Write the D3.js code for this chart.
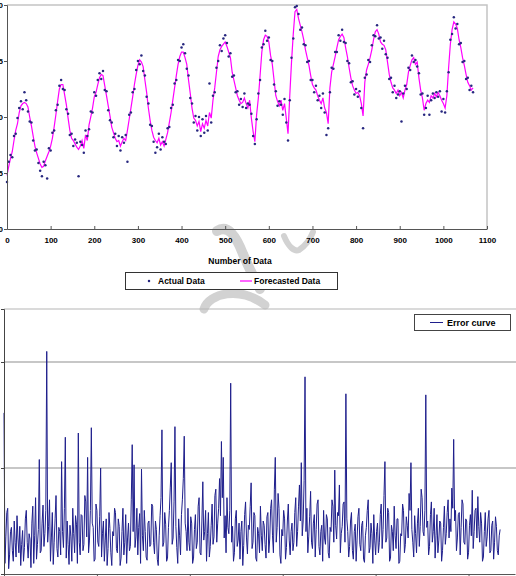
<!DOCTYPE html>
<html>
<head>
<meta charset="utf-8">
<script src="https://d3js.org/d3.v7.min.js"></script>
<style>
  body { margin: 0; background: #fff; }
  svg { display: block; font-family: Arial, "Liberation Sans", sans-serif; }
  .tick text { font-weight: bold; font-size: 8px; fill: #000; }
  .lbl { font-weight: bold; font-size: 8.5px; fill: #000; }
</style>
</head>
<body>
<script>
// top chart: one sample every 4 data points
var sampleStep = 4;
// error chart: one sample every 2 data points
var errStep = 2;

var forecast = [
  1.48,1.56,1.63,1.69,1.79,1.88,1.94,2.04,2.10,2.12,2.13,2.12,2.09,2.00,1.92,1.83,1.74,1.68,1.63,1.58,
  1.55,1.56,1.61,1.65,1.69,1.74,1.81,1.91,2.02,2.14,2.25,2.29,2.29,2.20,2.11,1.99,1.88,1.81,1.79,1.76,
  1.73,1.71,1.74,1.79,1.72,1.84,1.79,1.93,2.00,2.08,2.18,2.22,2.29,2.35,2.38,2.37,2.28,2.19,2.10,2.01,
  1.91,1.86,1.81,1.78,1.79,1.74,1.78,1.81,1.79,1.88,1.98,2.08,2.18,2.29,2.38,2.46,2.51,2.49,2.45,2.33,
  2.22,2.08,1.97,1.88,1.82,1.79,1.77,1.81,1.75,1.78,1.74,1.80,1.86,1.95,2.04,2.15,2.26,2.37,2.47,2.54,
  2.58,2.58,2.53,2.47,2.33,2.21,2.08,1.99,1.97,1.92,1.96,1.87,1.94,1.90,1.97,1.92,2.04,1.99,2.15,2.26,
  2.40,2.54,2.60,2.63,2.65,2.67,2.63,2.58,2.53,2.40,2.33,2.26,2.19,2.15,2.12,2.13,2.17,2.12,2.08,2.15,
  1.99,1.87,1.78,2.02,2.17,2.37,2.58,2.69,2.73,2.72,2.67,2.55,2.47,2.33,2.19,2.14,2.10,2.15,2.06,2.12,
  1.99,1.85,2.19,2.49,2.74,2.94,2.96,2.88,2.82,2.76,2.69,2.60,2.53,2.46,2.37,2.29,2.26,2.24,2.19,2.15,
  2.12,2.17,2.08,2.04,1.94,2.26,2.40,2.47,2.54,2.62,2.69,2.72,2.74,2.71,2.62,2.54,2.44,2.35,2.28,2.24,
  2.21,2.22,2.19,2.12,2.01,2.31,2.42,2.47,2.53,2.60,2.69,2.76,2.78,2.74,2.67,2.65,2.64,2.60,2.49,2.38,
  2.31,2.26,2.24,2.21,2.24,2.19,2.22,2.17,2.24,2.29,2.40,2.46,2.51,2.53,2.47,2.49,2.35,2.24,2.17,2.06,
  2.12,2.15,2.13,2.19,2.17,2.21,2.18,2.22,2.19,2.15,2.12,2.08,2.19,2.44,2.65,2.78,2.85,2.83,2.79,2.69,
  2.62,2.53,2.46,2.38,2.31,2.28,2.24,2.26
];

var actual = [
  1.42,1.60,1.66,1.64,1.83,1.85,1.99,2.08,2.14,2.07,2.22,2.15,2.05,1.96,1.95,1.79,1.70,1.71,1.59,1.52,
  1.47,1.60,1.57,1.45,1.72,1.70,1.86,1.88,2.06,2.11,2.28,2.33,2.25,2.24,2.07,2.03,1.84,1.85,1.74,1.80,
  1.77,1.47,1.78,1.75,1.68,1.88,1.83,1.89,2.05,2.04,2.22,2.19,2.33,2.39,2.34,2.41,2.24,2.23,2.06,1.97,
  1.95,1.82,1.85,1.74,1.83,1.70,1.82,1.77,1.84,1.60,2.02,2.04,2.22,2.25,2.42,2.50,2.47,2.55,2.41,2.37,
  2.18,2.12,1.93,1.92,1.78,1.68,1.73,1.85,1.71,1.82,1.78,1.76,1.90,1.91,2.08,2.11,2.30,2.33,2.51,2.50,
  2.62,2.65,2.57,2.43,2.37,2.17,2.12,1.95,2.01,1.88,2.00,1.83,1.98,1.86,2.01,1.88,2.30,1.95,2.19,2.22,
  2.44,2.50,2.64,2.59,2.70,2.73,2.66,2.54,2.57,2.36,2.37,2.22,2.23,2.11,2.16,2.09,2.21,2.08,2.12,2.11,
  2.03,1.83,1.76,1.98,2.21,2.33,2.62,2.65,2.77,2.68,2.71,2.51,2.50,2.29,2.23,2.10,2.14,2.11,2.02,2.16,
  1.95,1.79,2.15,2.53,2.70,2.98,2.99,2.92,2.78,2.80,2.65,2.64,2.49,2.50,2.33,2.33,2.22,2.28,2.15,2.19,
  2.08,2.21,2.04,1.84,1.90,2.22,2.44,2.43,2.58,2.58,2.73,2.68,2.78,2.67,2.66,2.50,2.48,2.31,2.32,2.20,
  2.25,2.18,2.23,2.08,1.90,2.35,2.38,2.51,2.49,2.64,2.73,2.72,2.82,2.70,2.71,2.61,2.68,2.56,2.53,2.34,
  2.35,2.22,2.28,2.17,2.20,2.23,1.96,2.21,2.28,2.25,2.44,2.42,2.55,2.49,2.51,2.45,2.39,2.20,2.21,2.02,
  2.08,2.19,2.02,2.15,2.21,2.17,2.22,2.18,2.23,2.05,2.16,2.04,2.23,2.40,2.69,2.74,2.89,2.79,2.83,2.65,
  2.66,2.49,2.50,2.34,2.35,2.24,2.28,2.22
];

var errorCurve = [
  1.52,0.10,0.35,0.58,0.62,0.05,0.18,0.40,0.44,0.22,0.12,0.50,0.30,0.16,0.55,0.34,0.20,0.45,0.08,0.28,
  0.41,0.12,0.25,0.52,0.60,0.30,0.15,0.38,0.33,0.06,0.48,0.64,0.10,0.36,0.72,0.14,0.28,0.42,1.08,0.20,
  0.22,0.48,0.65,0.26,0.38,0.60,2.10,0.30,0.45,0.70,0.12,0.34,0.58,0.09,0.30,0.52,0.74,0.24,0.16,0.44,
  0.40,0.18,1.06,0.40,0.25,0.62,1.29,0.15,0.50,0.28,0.09,0.46,0.35,0.12,0.62,0.38,0.20,0.55,0.47,0.10,
  1.33,0.30,0.18,0.56,0.55,0.22,0.28,0.74,0.68,0.35,1.10,0.20,0.32,0.60,1.38,0.48,0.44,0.12,0.14,0.66,
  0.60,0.30,0.26,0.54,1.00,0.16,0.38,0.50,0.12,0.32,0.52,0.08,0.24,0.58,0.43,0.20,0.08,0.40,0.36,0.62,
  0.58,0.24,0.20,0.52,0.45,0.08,0.15,0.40,0.62,0.18,0.30,0.56,0.10,0.34,0.48,0.22,0.26,0.70,1.22,0.40,
  1.03,0.25,0.35,0.62,0.18,0.44,0.57,0.10,0.99,0.36,0.22,0.60,0.40,0.16,0.13,0.48,0.50,0.26,0.28,0.66,
  0.64,0.30,0.19,0.50,0.42,0.14,0.08,0.36,0.55,0.72,1.36,0.26,0.30,0.58,0.47,0.12,0.15,0.44,0.60,0.82,
  1.05,0.28,0.34,0.68,1.39,0.45,0.25,0.10,0.52,0.36,0.18,0.56,0.70,0.90,1.30,0.48,0.40,0.22,0.62,0.30,
  0.22,0.54,0.48,0.10,0.15,0.42,0.56,0.24,0.30,0.64,0.72,0.20,0.18,0.50,0.87,0.32,0.40,0.60,0.12,0.38,
  0.58,0.16,0.26,0.46,0.66,0.28,0.35,0.74,0.80,0.30,0.48,0.62,0.90,0.55,1.25,0.72,1.10,0.34,0.55,0.20,
  0.72,0.44,0.38,0.60,1.80,0.30,0.45,0.12,0.20,0.52,0.60,0.26,0.32,0.48,0.14,0.40,0.50,0.08,0.27,0.56,
  0.68,0.34,0.19,0.46,0.42,0.64,0.86,0.24,0.30,0.58,0.55,0.15,0.12,0.44,0.38,0.20,0.64,0.36,0.22,0.50,
  0.46,0.28,0.15,0.54,0.58,0.20,0.33,0.62,0.70,0.36,0.20,0.80,1.10,0.30,0.44,0.76,0.62,0.18,0.10,0.42,
  0.36,0.60,0.52,0.14,0.25,0.50,0.66,0.32,0.18,0.40,0.48,0.22,0.30,0.58,0.72,0.26,0.40,0.64,0.84,0.50,
  1.05,0.36,0.50,0.88,1.86,0.40,0.62,0.20,0.35,0.54,0.78,0.30,0.24,0.48,0.56,0.16,0.42,0.66,0.70,0.26,
  0.18,0.40,0.46,0.12,0.60,0.34,0.28,0.56,0.52,0.20,0.15,0.44,0.40,0.70,0.64,0.30,0.98,0.46,0.33,0.58,
  0.55,0.84,0.20,0.38,0.45,0.66,0.68,0.30,1.70,0.52,0.40,0.16,0.26,0.50,0.58,0.22,0.14,0.40,0.47,0.12,
  0.32,0.54,0.62,0.28,0.22,0.46,0.50,0.14,0.11,0.36,0.44,0.60,0.70,0.20,0.25,0.48,0.38,0.10,0.56,0.32,
  0.18,0.40,0.48,0.20,0.30,0.56,0.66,0.24,0.42,0.74,1.06,0.30,0.34,0.62,0.58,0.12,0.15,0.46,0.40,0.22,
  0.64,0.36,0.24,0.52,0.52,0.10,0.12,0.38,0.36,0.66,0.60,0.20,0.28,0.54,0.46,0.34,0.76,0.60,1.05,0.42,
  0.30,0.16,0.55,0.38,0.20,0.48,0.62,0.26,0.45,0.80,0.72,0.40,0.36,0.60,1.69,0.44,0.50,0.18,0.26,0.56,
  0.68,0.30,0.40,0.62,0.15,0.36,0.56,0.20,0.32,0.50,0.48,0.12,0.22,0.44,0.64,0.28,0.38,0.58,0.70,0.34,
  0.52,0.40,0.81,0.62,1.27,0.50,0.60,0.22,0.34,0.56,0.58,0.18,0.44,0.70,0.66,0.30,0.28,0.52,0.50,0.14,
  0.20,0.46,0.56,0.36,0.79,0.24,0.40,0.60,0.62,0.34,0.73,0.45,0.30,0.58,0.48,0.12,0.16,0.40,0.58,0.26,
  0.35,0.52,0.60,0.20,0.22,0.46,0.50,0.14,0.30,0.54,0.45,0.22,0.18,0.36,0.42
];

var xTicks = [0, 100, 200, 300, 400, 500, 600, 700, 800, 900, 1000, 1100];
var yTicksTop = [1, 1.5, 2, 2.5, 3];
var xTicksErr = [0, 200, 400, 600, 800, 1000];
var yTicksErr = [0, 1, 2];

var W = 516, H = 576;
var svg = d3.select("body").append("svg")
    .attr("width", W)
    .attr("height", H);
svg.append("rect").attr("width", W).attr("height", H).attr("fill", "#fff");

// faint watermark strokes (drawn first, under everything)
var wm = svg.append("g").attr("fill", "none").attr("stroke", "#d2d2d2")
    .attr("stroke-linecap", "round");
wm.append("path").attr("d", "M217,231 C228,224 236,236 243,254 C249,268 255,280 260,289")
    .attr("stroke-width", 10);
wm.append("path").attr("d", "M204,309 C209,293 240,286 265,305")
    .attr("stroke-width", 9);
wm.append("path").attr("d", "M284,236 C288,246 294,252 299,250 C305,246 310,240 313,232")
    .attr("stroke-width", 6);

// ---------- top chart ----------
var x = d3.scaleLinear().domain([0, 1100]).range([7, 487]);
var y = d3.scaleLinear().domain([1, 3]).range([229, 5]);

// frame (top/right)
svg.append("path")
    .attr("d", "M" + x(0) + "," + y(3) + "H" + x(1100) + "V" + y(1))
    .attr("fill", "none").attr("stroke", "#c4c4c4").attr("stroke-width", 1.5);

var gTop = svg.append("g");
gTop.append("path")
    .datum(forecast)
    .attr("fill", "none")
    .attr("stroke", "#ff00ff")
    .attr("stroke-width", 1.2)
    .attr("d", d3.line()
        .x(function (d, i) { return x(i * sampleStep); })
        .y(function (d) { return y(d); }));

gTop.selectAll(".dot")
    .data(actual)
    .enter().append("circle")
    .attr("class", "dot")
    .attr("cx", function (d, i) { return x(i * sampleStep); })
    .attr("cy", function (d) { return y(d); })
    .attr("r", 1.25)
    .attr("fill", "#27277f");

var xAxis = svg.append("g")
    .attr("transform", "translate(0," + y(1) + ")")
    .call(d3.axisBottom(x).tickValues(xTicks).tickFormat(d3.format("d"))
        .tickSizeInner(-3).tickSizeOuter(0).tickPadding(8));
xAxis.select(".domain").attr("stroke", "#555");
xAxis.selectAll(".tick line").attr("stroke", "#555");

var yAxis = svg.append("g")
    .attr("transform", "translate(" + x(0) + ",0)")
    .call(d3.axisLeft(y).tickValues(yTicksTop).tickSize(3).tickPadding(1));
yAxis.select(".domain").attr("stroke", "#555");
yAxis.selectAll(".tick line").attr("stroke", "#555");

svg.append("text").attr("class", "lbl")
    .attr("x", 240).attr("y", 264)
    .attr("text-anchor", "middle")
    .text("Number of Data");

// legend
var lg = svg.append("g");
lg.append("rect").attr("x", 125.5).attr("y", 272.5).attr("width", 212).attr("height", 17)
    .attr("fill", "#fff").attr("stroke", "#333").attr("stroke-width", 1);
lg.append("circle").attr("cx", 149).attr("cy", 281).attr("r", 1.25).attr("fill", "#27277f");
lg.append("text").attr("class", "lbl").attr("x", 158).attr("y", 284).text("Actual Data");
lg.append("line").attr("x1", 240).attr("x2", 252).attr("y1", 281).attr("y2", 281)
    .attr("stroke", "#ff00ff").attr("stroke-width", 1.2);
lg.append("text").attr("class", "lbl").attr("x", 254).attr("y", 284).text("Forecasted Data");

// ---------- error chart ----------
var xe = d3.scaleLinear().domain([0, 1100]).range([4, 515]);
var ye = d3.scaleLinear().domain([0, 2.5]).range([574, 309]);

svg.append("line").attr("x1", xe(0)).attr("x2", W).attr("y1", ye(2.5)).attr("y2", ye(2.5))
    .attr("stroke", "#b5b5b5").attr("stroke-width", 1.2);
svg.append("g").selectAll("line")
    .data(yTicksErr.filter(function (d) { return d > 0; }))
    .enter().append("line")
    .attr("x1", xe(0)).attr("x2", W)
    .attr("y1", function (d) { return ye(d); })
    .attr("y2", function (d) { return ye(d); })
    .attr("stroke", "#8f8f8f").attr("stroke-width", 1);

svg.append("path")
    .datum(errorCurve)
    .attr("fill", "none")
    .attr("stroke", "#1f1f8c")
    .attr("stroke-width", 1)
    .attr("d", d3.line()
        .x(function (d, i) { return xe(i * errStep); })
        .y(function (d) { return ye(d); }));

var xeAxis = svg.append("g")
    .attr("transform", "translate(0," + ye(0) + ")")
    .call(d3.axisBottom(xe).tickValues(xTicksErr).tickFormat(d3.format("d"))
        .tickSize(3).tickSizeOuter(0));
xeAxis.select(".domain").attr("stroke", "#555");
xeAxis.selectAll(".tick line").attr("stroke", "#555");

var yeAxis = svg.append("g")
    .attr("transform", "translate(" + xe(0) + ",0)")
    .call(d3.axisLeft(ye).tickValues(yTicksErr).tickSize(3).tickPadding(4));
yeAxis.select(".domain").attr("stroke", "#444");
yeAxis.selectAll(".tick line").attr("stroke", "#444");

var le = svg.append("g");
le.append("rect").attr("x", 414.5).attr("y", 314.5).attr("width", 96).attr("height", 16)
    .attr("fill", "#fff").attr("stroke", "#444").attr("stroke-width", 1);
le.append("line").attr("x1", 430).attr("x2", 443).attr("y1", 322.5).attr("y2", 322.5)
    .attr("stroke", "#1f1f8c").attr("stroke-width", 1);
le.append("text").attr("x", 447).attr("y", 326)
    .attr("font-size", "9px").attr("font-weight", "bold").text("Error curve");
</script>
</body>
</html>
